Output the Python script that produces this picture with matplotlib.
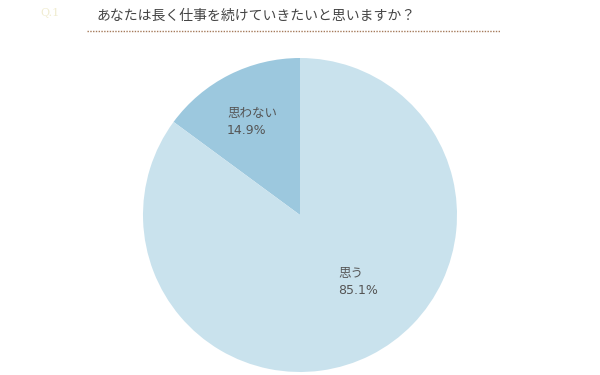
import matplotlib
matplotlib.use("Agg")
import matplotlib.pyplot as plt

plt.rcParams['font.family'] = ['Noto Sans CJK JP', 'DejaVu Sans']

categories = ["思わない", "思う"]
values = [14.9, 85.1]
colors = ["#9cc8de", "#c9e2ed"]
title = "あなたは長く仕事を続けていきたいと思いますか？"

fig = plt.figure(figsize=(6, 3.75), dpi=100)
ax = fig.add_axes([0, 0, 1, 1])

ax.pie(values, colors=colors, startangle=90, counterclock=True,
       center=(300, 160), radius=157, wedgeprops=dict(linewidth=0))

ax.set_xlim(0, 600)
ax.set_ylim(0, 375)
ax.set_aspect('auto')
ax.axis('off')

label_pos = [(227, 261), (338, 102)]
for (x, y), cat, v in zip(label_pos, categories, values):
    ax.text(x, y, cat, fontsize=9, color="#555555", ha='left', va='center')
    ax.text(x, y - 17, f"{v:.1f}%", fontsize=9, color="#555555", ha='left', va='center',
            family=['DejaVu Sans'])

ax.text(40, 362, "Q.1", fontsize=8, color="#f0ecd0", ha='left', va='center', family=['DejaVu Serif'])
ax.text(97, 359, title, fontsize=10, color="#444444", ha='left', va='center')
ax.plot([87, 500], [344.5, 344.5], linestyle=(0, (1, 1)), color="#a57a5a", linewidth=1.0)

fig.savefig("out.png", dpi=100)
